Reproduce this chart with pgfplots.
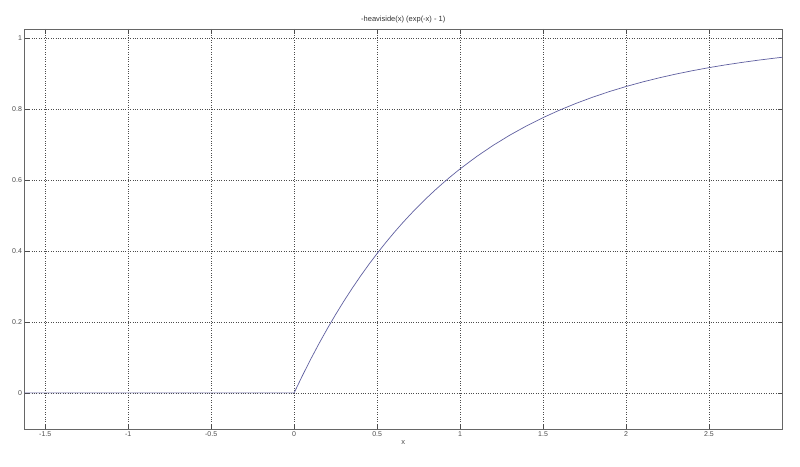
\documentclass[border=0pt]{standalone}
\usepackage{pgfplots}
\pgfplotsset{compat=1.18}
\usepackage{fontspec}
\setmainfont{Liberation Sans}
\definecolor{curve}{RGB}{95,95,160}
\begin{document}
\begin{tikzpicture}
\begin{axis}[
  at={(0,0)}, anchor=south west,
  scale only axis,
  width=757.5pt, height=400pt,
  xmin=-1.625, xmax=2.94,
  ymin=-0.102, ymax=1.027,
  xtick={-1.5,-1,-0.5,0,0.5,1,1.5,2,2.5},
  ytick={0,0.2,0.4,0.6,0.8,1},
  xticklabels={-1.5,-1,-0.5,0,0.5,1,1.5,2,2.5},
  yticklabels={0,0.2,0.4,0.6,0.8,1},
  tick label style={font=\fontsize{7}{8}\selectfont, text=black!70},
  label style={font=\fontsize{7.5}{9}\selectfont, text=black!70},
  title style={font=\fontsize{7.5}{9}\selectfont, text=black!80, yshift=-4pt},
  title={-heaviside(x) (exp(-x) - 1)},
  xlabel={x},
  xlabel style={yshift=3pt},
  grid=major,
  major grid style={black!70, dotted, line width=0.6pt},
  axis line style={black!60, line width=0.7pt},
  tick style={black!70, line width=0.6pt},
  tick align=inside,
  major tick length=4pt,
  xtick pos=both, ytick pos=both,
  xticklabel style={yshift=1pt},
  yticklabel style={xshift=1pt},
]
\addplot[curve, line width=0.7pt] coordinates {
(-1.625,0) (-1,0) (-0.5,0) (0,0)
(0.05,0.048771) (0.1,0.095163) (0.15,0.139292) (0.2,0.181269) (0.25,0.221199)
(0.3,0.259182) (0.35,0.295312) (0.4,0.329680) (0.45,0.362372) (0.5,0.393469)
(0.55,0.423050) (0.6,0.451188) (0.65,0.477954) (0.7,0.503415) (0.75,0.527633)
(0.8,0.550671) (0.85,0.572585) (0.9,0.593430) (0.95,0.613259) (1.0,0.632121)
(1.1,0.667129) (1.2,0.698806) (1.3,0.727468) (1.4,0.753403) (1.5,0.776870)
(1.6,0.798103) (1.7,0.817316) (1.8,0.834701) (1.9,0.850431) (2.0,0.864665)
(2.1,0.877544) (2.2,0.889197) (2.3,0.899741) (2.4,0.909282) (2.5,0.917915)
(2.6,0.925726) (2.7,0.932794) (2.8,0.939190) (2.9,0.944977) (2.94,0.947134)
};
\end{axis}
\path (-24.5pt,-37pt) rectangle (775.5pt,429pt);
\end{tikzpicture}
\end{document}
